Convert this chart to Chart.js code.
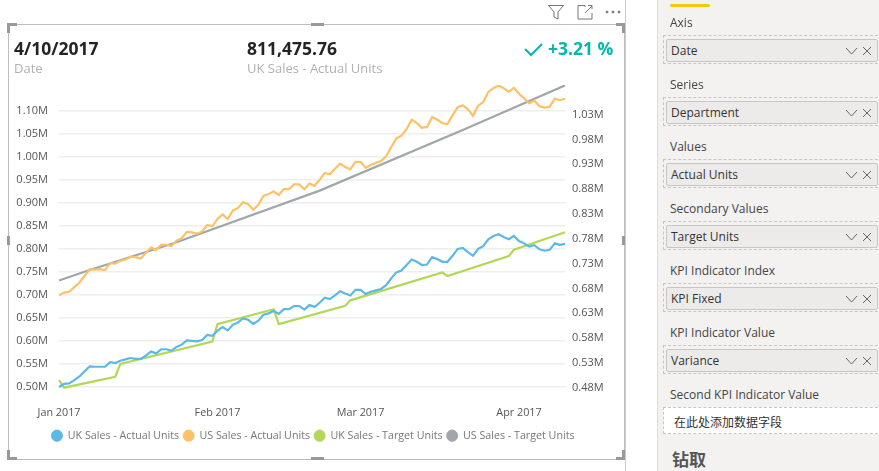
<!DOCTYPE html>
<html>
<head>
<meta charset="utf-8">
<title>KPI chart</title>
<script src="https://cdn.jsdelivr.net/npm/chart.js@4"></script>
<style>
html, body { margin: 0; padding: 0; background: #fff; overflow: hidden; }
body { width: 879px; height: 471px; position: relative; font-family: "Open Sans", sans-serif; }
#myChart { position: absolute; left: 0; top: 0; }
.abs { position: absolute; white-space: nowrap; }
.kpi { font-size: 17.5px; font-weight: 700; color: #252423; line-height: 24px; }
.sub { font-size: 13px; color: #b3b0ad; line-height: 18px; }
.handle { position: absolute; background: #999; }
#panel { position: absolute; left: 657px; top: 0; width: 222px; height: 471px; background: #f3f2f1; border-left: 1px solid #ddd; box-sizing: border-box; }
.lbl { position: absolute; left: 12px; font-size: 12px; line-height: 16px; color: #444; white-space: nowrap; }
.well { position: absolute; left: 5px; width: 230px; height: 29px; border: 1px dashed #c8c6c4; box-sizing: border-box; }
.pill { position: absolute; left: 2px; top: 3px; width: 212px; height: 23px; box-sizing: border-box; background: #edebe9; border: 1px solid #c8c6c4; border-radius: 2px; font-size: 12px; line-height: 22px; padding-left: 4px; color: #333; }
.pill svg { position: absolute; left: 178px; top: 6px; }
</style>
</head>
<body>
<canvas id="myChart" width="626" height="471"></canvas>

<!-- visual frame -->
<div class="abs" style="left:625px;top:0;width:1px;height:471px;background:#ccc"></div>
<div class="abs" style="left:8px;top:24px;width:615px;height:434px;border:1px solid #bdbdbd"></div>
<div class="handle" style="left:7px;top:23px;width:10px;height:3px"></div>
<div class="handle" style="left:7px;top:23px;width:3px;height:10px"></div>
<div class="handle" style="left:311px;top:23px;width:13px;height:3px"></div>
<div class="handle" style="left:616px;top:23px;width:9px;height:3px"></div>
<div class="handle" style="left:622px;top:23px;width:3px;height:10px"></div>
<div class="handle" style="left:7px;top:236px;width:3px;height:9px"></div>
<div class="handle" style="left:622px;top:236px;width:3px;height:9px"></div>
<div class="handle" style="left:7px;top:450px;width:3px;height:10px"></div>
<div class="handle" style="left:7px;top:457px;width:10px;height:3px"></div>
<div class="handle" style="left:311px;top:457px;width:13px;height:3px"></div>
<div class="handle" style="left:616px;top:457px;width:9px;height:3px"></div>
<div class="handle" style="left:622px;top:450px;width:3px;height:10px"></div>

<!-- header icons -->
<svg class="abs" style="left:547px;top:4px" width="76" height="16" fill="none" stroke="#777" stroke-width="1">
  <path d="M1.5 1.5H16.5L11 8V15L7 13V8Z"/>
  <path d="M38 3V1.5H31V15H45V9M38 9L45 2M41 1.5H45V5"/>
  <circle cx="60" cy="8" r="1" fill="#777"/><circle cx="66" cy="8" r="1" fill="#777"/><circle cx="72" cy="8" r="1" fill="#777"/>
</svg>

<!-- KPI header -->
<div class="abs kpi" style="left:14px;top:36px">4/10/2017</div>
<div class="abs sub" style="left:14px;top:59px">Date</div>
<div class="abs kpi" style="left:247px;top:36px">811,475.76</div>
<div class="abs sub" style="left:247px;top:59px">UK Sales - Actual Units</div>
<svg class="abs" style="left:524px;top:42px" width="20" height="16" fill="none" stroke="#01b8aa" stroke-width="2"><path d="M1 7L7 13L18 2"/></svg>
<div class="abs kpi" style="left:548px;top:36px;color:#01b8aa">+3.21 %</div>

<div id="panel"><div class="abs" style="left:12px;top:4px;width:40px;height:3px;background:#f2c811;border-radius:2px"></div></div>

<script>
//setup
const dates = [
	"Jan 1","Jan 2","Jan 3","Jan 4","Jan 5","Jan 6","Jan 7","Jan 8","Jan 9","Jan 10","Jan 11","Jan 12","Jan 13","Jan 14","Jan 15","Jan 16",
	"Jan 17","Jan 18","Jan 19","Jan 20","Jan 21","Jan 22","Jan 23","Jan 24","Jan 25","Jan 26","Jan 27","Jan 28","Jan 29","Jan 30","Jan 31",
	"Feb 1","Feb 2","Feb 3","Feb 4","Feb 5","Feb 6","Feb 7","Feb 8","Feb 9","Feb 10","Feb 11","Feb 12","Feb 13","Feb 14",
	"Feb 15","Feb 16","Feb 17","Feb 18","Feb 19","Feb 20","Feb 21","Feb 22","Feb 23","Feb 24","Feb 25","Feb 26","Feb 27","Feb 28",
	"Mar 1","Mar 2","Mar 3","Mar 4","Mar 5","Mar 6","Mar 7","Mar 8","Mar 9","Mar 10","Mar 11","Mar 12","Mar 13","Mar 14","Mar 15","Mar 16",
	"Mar 17","Mar 18","Mar 19","Mar 20","Mar 21","Mar 22","Mar 23","Mar 24","Mar 25","Mar 26","Mar 27","Mar 28","Mar 29","Mar 30","Mar 31",
	"Apr 1","Apr 2","Apr 3","Apr 4","Apr 5","Apr 6","Apr 7","Apr 8","Apr 9","Apr 10",
];
const monthTicks = { "Jan 1": "Jan 2017", "Feb 1": "Feb 2017", "Mar 1": "Mar 2017", "Apr 1": "Apr 2017" };

//values in millions, left axis
const ukActual = [
	0.500,0.507,0.508,0.515,0.523,0.534,0.545,0.544,0.544,0.544,0.554,0.552,0.557,0.560,0.563,0.561,0.561,0.568,0.577,0.573,
	0.582,0.582,0.579,0.587,0.592,0.601,0.600,0.599,0.602,0.613,0.611,0.622,0.630,0.623,0.635,0.640,0.649,0.646,0.637,0.644,
	0.657,0.660,0.665,0.659,0.669,0.669,0.676,0.676,0.668,0.678,0.674,0.683,0.694,0.691,0.699,0.708,0.703,0.699,0.711,0.711,
	0.702,0.707,0.710,0.713,0.721,0.736,0.749,0.753,0.765,0.777,0.772,0.765,0.766,0.782,0.778,0.772,0.772,0.785,0.800,0.802,
	0.793,0.785,0.800,0.806,0.821,0.828,0.832,0.826,0.821,0.828,0.817,0.812,0.805,0.808,0.799,0.796,0.798,0.812,0.809,0.811,
];
const usActual = [
	0.699,0.705,0.707,0.717,0.727,0.741,0.756,0.755,0.756,0.754,0.769,0.768,0.774,0.777,0.783,0.782,0.779,0.791,0.803,0.798,
	0.809,0.809,0.806,0.818,0.823,0.837,0.836,0.833,0.838,0.852,0.849,0.865,0.875,0.865,0.883,0.889,0.901,0.897,0.885,0.896,
	0.915,0.919,0.925,0.917,0.930,0.930,0.940,0.940,0.929,0.942,0.937,0.950,0.965,0.962,0.974,0.985,0.978,0.973,0.989,0.989,
	0.976,0.982,0.987,0.991,1.001,1.021,1.040,1.046,1.060,1.081,1.073,1.063,1.065,1.086,1.081,1.073,1.071,1.090,1.108,1.112,
	1.103,1.089,1.111,1.119,1.141,1.149,1.155,1.149,1.141,1.150,1.137,1.127,1.116,1.122,1.110,1.107,1.109,1.126,1.123,1.126,
];

//target lines are read at their corners only, right axis
const ukTargetDates = ["Jan 1","Jan 2","Jan 12","Jan 13","Jan 31","Feb 1","Feb 12","Feb 13","Feb 26","Feb 27","Mar 17","Mar 18","Mar 30","Mar 31","Apr 10"];
const ukTargetValues = [0.495,0.480,0.502,0.528,0.573,0.608,0.638,0.608,0.645,0.656,0.712,0.705,0.745,0.758,0.793];
const usTargetDates = ["Jan 1","Jan 7","Jan 24","Feb 21","Mar 21","Apr 2","Apr 10"];
const usTargetValues = [0.696,0.717,0.773,0.877,0.999,1.053,1.089];

const leftTicks = [0.50,0.55,0.60,0.65,0.70,0.75,0.80,0.85,0.90,0.95,1.00,1.05,1.10];
const rightTicks = [0.48,0.53,0.58,0.63,0.68,0.73,0.78,0.83,0.88,0.93,0.98,1.03];

//panel fields
const panelLabels = ["Axis","Series","Values","Secondary Values","KPI Indicator Index","KPI Indicator Value","Second KPI Indicator Value"];
const panelFields = ["Date","Department","Actual Units","Target Units","KPI Fixed","Variance"];

const toPoints = (xs, ys) => xs.map((d, i) => ({ x: d, y: ys[i] }));
const fontFamily = '"Open Sans", sans-serif';

const data = {
	labels: dates,
	datasets: [
		{ label: "UK Sales - Actual Units", data: ukActual, yAxisID: "y", borderColor: "#5bb9e7", backgroundColor: "#5bb9e7" },
		{ label: "US Sales - Actual Units", data: usActual, yAxisID: "y", borderColor: "#fdc166", backgroundColor: "#fdc166" },
		{ label: "UK Sales - Target Units", data: toPoints(ukTargetDates, ukTargetValues), yAxisID: "y2", borderColor: "#b3d756", backgroundColor: "#b3d756" },
		{ label: "US Sales - Target Units", data: toPoints(usTargetDates, usTargetValues), yAxisID: "y2", borderColor: "#a0a7ab", backgroundColor: "#a0a7ab" },
	],
};

//config
const config = {
	type: "line",
	data,
	options: {
		responsive: false,
		animation: false,
		layout: { padding: { top: 85, bottom: 20, left: 0, right: 0 } },
		elements: {
			line: { borderWidth: 2.2, tension: 0 },
			point: { radius: 0 },
		},
		scales: {
			x: {
				type: "category",
				offset: false,
				grid: { display: false, drawTicks: false },
				border: { display: false },
				afterFit(scale) { scale.height = 34; },
				ticks: {
					autoSkip: false,
					maxRotation: 0,
					padding: 14,
					color: "#555",
					font: { family: fontFamily, size: 10.8 },
					callback(value) { return monthTicks[this.getLabelForValue(value)] || null; },
				},
			},
			y: {
				position: "left",
				min: 0.4885,
				max: 1.156,
				afterBuildTicks(scale) { scale.ticks = leftTicks.map((value) => ({ value })); },
				afterFit(scale) { scale.width = 59; },
				grid: { color: "#eeeeee", lineWidth: 1.5, drawTicks: false },
				border: { display: false },
				ticks: {
					padding: 11,
					color: "#555",
					font: { family: fontFamily, size: 11 },
					callback: (value) => value.toFixed(2) + "M",
				},
			},
			y2: {
				position: "right",
				min: 0.4707,
				max: 1.0898,
				afterBuildTicks(scale) { scale.ticks = rightTicks.map((value) => ({ value })); },
				afterFit(scale) { scale.width = 61; },
				grid: { display: false, drawTicks: false },
				border: { display: false },
				ticks: {
					padding: 7,
					color: "#555",
					font: { family: fontFamily, size: 11 },
					callback: (value) => value.toFixed(2) + "M",
				},
			},
		},
		plugins: {
			tooltip: { enabled: false },
			title: { display: false },
			legend: {
				display: true,
				position: "bottom",
				labels: {
					usePointStyle: true,
					pointStyle: "circle",
					pointStyleWidth: 11,
					boxHeight: 8,
					padding: 4,
					color: "#777",
					font: { family: fontFamily, size: 10.7 },
				},
			},
		},
	},
};

//render init
const myChart = new Chart(document.getElementById("myChart"), config);

//side panel
const panel = document.getElementById("panel");
const chevron = '<svg width="28" height="10" fill="none" stroke="#666" stroke-width="1"><path d="M1 2L6.5 8L12 2"/><path d="M18 1L26 9M26 1L18 9"/></svg>';
panelLabels.forEach((text, i) => {
	const top = 15 + i * 62;
	const lbl = document.createElement("div");
	lbl.className = "lbl";
	lbl.style.top = top + "px";
	lbl.textContent = text;
	panel.appendChild(lbl);
	const well = document.createElement("div");
	well.className = "well";
	well.style.top = top + 20 + "px";
	if (panelFields[i]) {
		well.innerHTML = '<div class="pill">' + panelFields[i] + chevron + "</div>";
	} else {
		well.style.background = "#fff";
		well.style.height = "27px";
		well.innerHTML = '<div class="abs" style="left:10px;top:5px;font:12px/18px \'Noto Sans CJK SC\';color:#333">在此处添加数据字段</div>';
	}
	panel.appendChild(well);
});
const drill = document.createElement("div");
drill.className = "abs";
drill.style.cssText = "left:14px;top:447px;font:bold 17px/24px 'Noto Sans CJK SC';color:#555";
drill.textContent = "钻取";
panel.appendChild(drill);
</script>
</body>
</html>
